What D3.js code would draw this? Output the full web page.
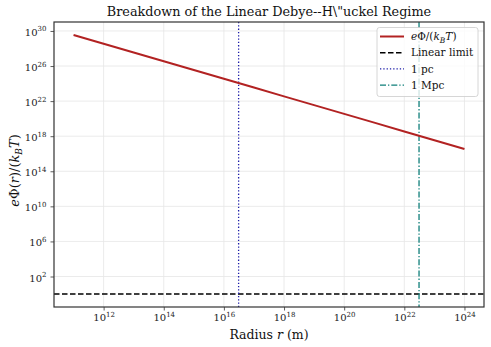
<!DOCTYPE html>
<html>
<head>
<meta charset="utf-8">
<script src="https://cdn.jsdelivr.net/npm/d3@7"></script>
<style>
body { margin: 0; background: #fff; }
svg { display: block; font-family: "DejaVu Serif", serif; }
</style>
</head>
<body>
<div id="chart"></div>
<script>
var W = 491, H = 347,
	m = {left: 54, right: 7, top: 22, bottom: 40};

// radius r (m) and e*Phi/(kB T)
var radius = [1e11, 1e12, 1e13, 1e14, 1e15, 1e16, 1e17, 1e18, 1e19, 1e20, 1e21, 1e22, 1e23, 1e24];
var potential = [3.5e29, 3.5e28, 3.5e27, 3.5e26, 3.5e25, 3.5e24, 3.5e23, 3.5e22, 3.5e21, 3.5e20, 3.5e19, 3.5e18, 3.5e17, 3.5e16];
var linearLimit = 1;
var parsec = 3.086e16, megaparsec = 3.086e22;
var xTickExp = [12, 14, 16, 18, 20, 22, 24];
var yTickExp = [2, 6, 10, 14, 18, 22, 26, 30];

var pw = W - m.left - m.right, ph = H - m.top - m.bottom;

function padLog(lo, hi) {
	var a = Math.log10(lo), b = Math.log10(hi), p = (b - a) * 0.05;
	return [Math.pow(10, a - p), Math.pow(10, b + p)];
}

var x = d3.scaleLog().domain(padLog(d3.min(radius), d3.max(radius))).range([0, pw]);
var y = d3.scaleLog().domain(padLog(Math.min(linearLimit, d3.min(potential)), d3.max(potential))).range([ph, 0]);

var svg = d3.select('#chart').append('svg').attr('width', W).attr('height', H);

svg.append('text')
	.attr('x', m.left + pw / 2).attr('y', 16)
	.attr('text-anchor', 'middle').attr('font-size', 12.8).attr('fill', '#111')
	.text('Breakdown of the Linear Debye--H\\"uckel Regime');

var g = svg.append('g').attr('transform', 'translate(' + m.left + ',' + m.top + ')');

// grid
g.selectAll('.gx').data(xTickExp).enter().append('line')
	.attr('x1', function(d) { return x(Math.pow(10, d)) }).attr('x2', function(d) { return x(Math.pow(10, d)) })
	.attr('y1', 0).attr('y2', ph).attr('stroke', '#e6e6e6').attr('stroke-width', 0.8);
g.selectAll('.gy').data(yTickExp).enter().append('line')
	.attr('y1', function(d) { return y(Math.pow(10, d)) }).attr('y2', function(d) { return y(Math.pow(10, d)) })
	.attr('x1', 0).attr('x2', pw).attr('stroke', '#e6e6e6').attr('stroke-width', 0.8);

// axes
function supLabel(sel, d) {
	sel.text('');
	sel.append('tspan').text('10');
	sel.append('tspan').attr('dy', -4.5).attr('font-size', 7).text(d);
}

var xa = g.append('g').attr('transform', 'translate(0,' + ph + ')')
	.call(d3.axisBottom(x).tickValues(xTickExp.map(function(d) { return Math.pow(10, d) })).tickSize(3.5).tickPadding(4).tickFormat(''));
xa.selectAll('.tick text').each(function(d) {
	var t = d3.select(this).attr('font-size', 10).attr('font-family', '"DejaVu Serif", serif').attr('fill', '#222').attr('dy', 6.5);
	supLabel(t, Math.round(Math.log10(d)));
});

var ya = g.append('g')
	.call(d3.axisLeft(y).tickValues(yTickExp.map(function(d) { return Math.pow(10, d) })).tickSize(3.5).tickPadding(4).tickFormat(''));
ya.selectAll('.tick text').each(function(d) {
	var t = d3.select(this).attr('font-size', 10).attr('font-family', '"DejaVu Serif", serif').attr('fill', '#222').attr('dy', 4.5);
	supLabel(t, Math.round(Math.log10(d)));
});
g.selectAll('.domain').remove();
g.selectAll('.tick line').attr('stroke', '#333').attr('stroke-width', 0.8);

// data lines
g.append('line')
	.attr('x1', 0).attr('x2', pw).attr('y1', y(linearLimit)).attr('y2', y(linearLimit))
	.attr('stroke', '#000').attr('stroke-width', 1.5).attr('stroke-dasharray', '5.5,2.5');
g.append('line')
	.attr('x1', x(parsec)).attr('x2', x(parsec)).attr('y1', 0).attr('y2', ph)
	.attr('stroke', '#1c1ca8').attr('stroke-width', 1.3).attr('stroke-dasharray', '1.3,2');
g.append('line')
	.attr('x1', x(megaparsec)).attr('x2', x(megaparsec)).attr('y1', 0).attr('y2', ph)
	.attr('stroke', '#0f7f7a').attr('stroke-width', 1.3).attr('stroke-dasharray', '6,2,1.3,2');

g.append('path')
	.datum(radius.map(function(r, i) { return [r, potential[i]] }))
	.attr('fill', 'none').attr('stroke', '#b22222').attr('stroke-width', 2)
	.attr('d', d3.line().x(function(d) { return x(d[0]) }).y(function(d) { return y(d[1]) }));

// frame
g.append('rect').attr('width', pw).attr('height', ph)
	.attr('fill', 'none').attr('stroke', '#333').attr('stroke-width', 1.2);

// axis labels
var xl = svg.append('text').attr('x', m.left + pw / 2).attr('y', 339)
	.attr('text-anchor', 'middle').attr('font-size', 12.5).attr('fill', '#111');
xl.append('tspan').text('Radius ');
xl.append('tspan').attr('font-style', 'italic').text('r');
xl.append('tspan').text(' (m)');

var yl = svg.append('text').attr('transform', 'translate(19,' + (m.top + ph / 2 + 6) + ') rotate(-90)')
	.attr('text-anchor', 'middle').attr('font-size', 13).attr('fill', '#111');
yl.append('tspan').attr('font-style', 'italic').text('e');
yl.append('tspan').text('Φ(');
yl.append('tspan').attr('font-style', 'italic').text('r');
yl.append('tspan').text(')/(');
yl.append('tspan').attr('font-style', 'italic').text('k');
yl.append('tspan').attr('font-style', 'italic').attr('font-size', 9).attr('dy', 3).text('B');
yl.append('tspan').attr('font-style', 'italic').attr('dy', -3).text('T');
yl.append('tspan').text(')');

// legend
var legend = [
	{label: 'phi', color: '#b22222', dash: null, w: 2},
	{label: 'Linear limit', color: '#000', dash: '5.5,2.5', w: 1.5},
	{label: '1 pc', color: '#1c1ca8', dash: '1.3,2', w: 1.3},
	{label: '1 Mpc', color: '#0f7f7a', dash: '6,2,1.3,2', w: 1.3}
];
var lg = svg.append('g').attr('transform', 'translate(377,27.5)');
lg.append('rect').attr('width', 101).attr('height', 69).attr('rx', 2.5)
	.attr('fill', 'rgba(255,255,255,0.8)').attr('stroke', '#ccc').attr('stroke-width', 0.8);
var rows = lg.selectAll('.row').data(legend).enter().append('g')
	.attr('transform', function(d, i) { return 'translate(0,' + (9 + i * 16.2) + ')' });
rows.append('line').attr('x1', 3).attr('x2', 27)
	.attr('stroke', function(d) { return d.color }).attr('stroke-width', function(d) { return d.w })
	.attr('stroke-dasharray', function(d) { return d.dash });
rows.append('text').attr('x', 34).attr('dy', '0.35em').attr('font-size', 10.5).attr('fill', '#111')
	.each(function(d) {
		var t = d3.select(this);
		if (d.label == 'phi') {
			t.append('tspan').attr('font-style', 'italic').text('e');
			t.append('tspan').text('Φ/(');
			t.append('tspan').attr('font-style', 'italic').text('k');
			t.append('tspan').attr('font-style', 'italic').attr('font-size', 7.5).attr('dy', 2.5).text('B');
			t.append('tspan').attr('font-style', 'italic').attr('dy', -2.5).text('T');
			t.append('tspan').text(')');
		} else {
			t.text(d.label);
		}
	});
</script>
</body>
</html>
